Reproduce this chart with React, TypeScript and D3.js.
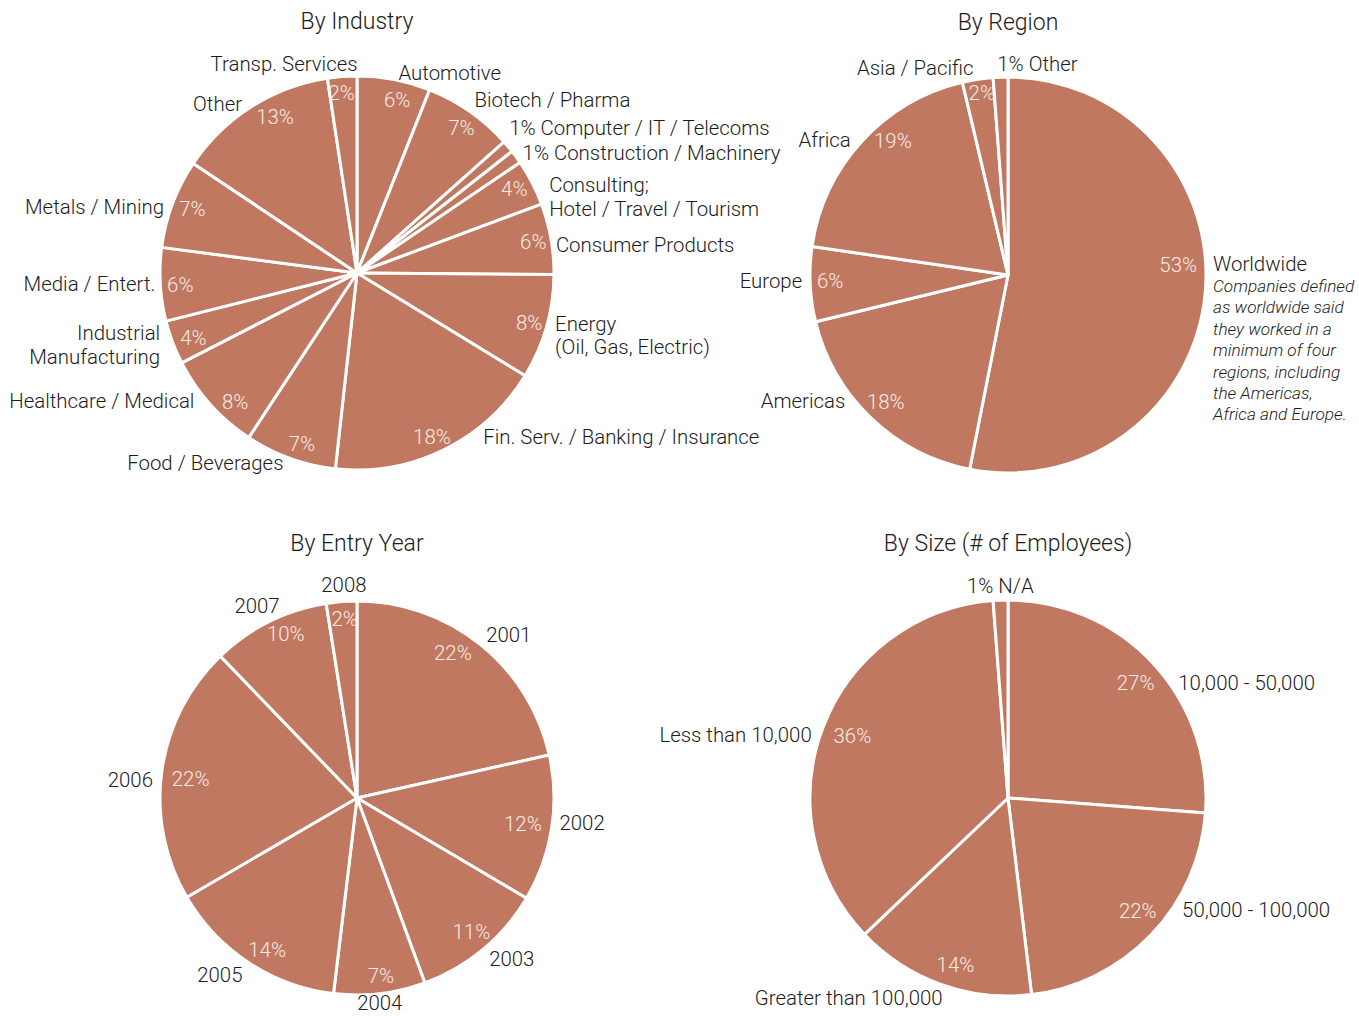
import React from "react";
import * as d3 from "d3";

// ---------- DATA ----------
const industryCategories = [
  "Automotive", "Biotech / Pharma", "1% Computer / IT / Telecoms", "1% Construction / Machinery",
  "Consulting;\nHotel / Travel / Tourism", "Consumer Products", "Energy\n(Oil, Gas, Electric)",
  "Fin. Serv. / Banking / Insurance", "Food / Beverages", "Healthcare / Medical",
  "Industrial\nManufacturing", "Media / Entert.", "Metals / Mining", "Other", "Transp. Services",
];
const industryValues = [6, 7.4, 1, 1.1, 3.8, 5.8, 8.6, 18, 7.5, 8.2, 3.6, 6, 7.3, 13.2, 2.4];
const industryPct = ["6%", "7%", "", "", "4%", "6%", "8%", "18%", "7%", "8%", "4%", "6%", "7%", "13%", "2%"];

const regionCategories = ["Worldwide", "Americas", "Europe", "Africa", "Asia / Pacific", "1% Other"];
const regionValues = [53.1, 18.1, 6.1, 19, 2.5, 1.2];
const regionPct = ["53%", "18%", "6%", "19%", "2%", ""];
const worldwideNote = [
  "Companies defined", "as worldwide said", "they worked in a", "minimum of four",
  "regions, including", "the Americas,", "Africa and Europe.",
];

const yearCategories = ["2001", "2002", "2003", "2004", "2005", "2006", "2007", "2008"];
const yearValues = [21.5, 12, 10.9, 7.5, 14.7, 21.2, 9.7, 2.5];
const yearPct = ["22%", "12%", "11%", "7%", "14%", "22%", "10%", "2%"];

const sizeCategories = ["10,000 - 50,000", "50,000 - 100,000", "Greater than 100,000", "Less than 10,000", "1% N/A"];
const sizeValues = [26.2, 21.9, 14.8, 35.9, 1.2];
const sizePct = ["27%", "22%", "14%", "36%", ""];

// label placement tweaks: [dx, dy, anchor]
type Nudge = [number, number, string?];
const industryNudges: Nudge[] = [
  [3, 1], [0, -5], [-5, -13], [0, 1], [10, 18], [-3, 8], [1, 6], [36, -20],
  [-4, -3], [-10, -9], [-5, 0], [3, -1], [-1, 6], [-5, 4], [16, -5],
];
const regionNudges: Nudge[] = [[1, -31], [-21, -22], [-1, -4], [-6, 3], [-3, -4], [-3, -6, "start"]];
const yearNudges: Nudge[] = [[1, -3], [0, -7], [1, 3], [-1, 1, "middle"], [-2, 6], [-1, 10], [14, -8], [3, -9, "middle"]];
const sizeNudges: Nudge[] = [[20, 24], [26, -30], [4, 7], [-5, 11], [0, -7, "middle"]];

// percentage label tweaks: [dx, dy]
const industryPctNudges: Nudge[] = [
  [7, 1], [3, 0], [0, 0], [0, 0], [0, -3], [2, 0], [2, 1], [-3, 5],
  [5, 4], [10, 11], [2, 3], [0, 2], [1, -2], [13, -7], [-2, -4],
];
const regionPctNudges: Nudge[] = [[0, -27], [-4, 3], [-7, -2], [11, -19], [0, -13], [0, 0]];
const yearPctNudges: Nudge[] = [[-11, -12], [-3, -1], [5, 3], [4, 8], [4, 9], [3, 5], [5, -11], [1, -9]];
const sizePctNudges: Nudge[] = [[3, 1], [7, -5], [5, 7], [3, -1], [0, 0]];

const FILL = "#c07860";
const PCT_COLOR = "#f8ebe5";
const TEXT = "#1c1c1c";
const FONT = "'Helvetica Neue', Roboto, 'Liberation Sans', Arial, sans-serif";
const LABEL_SIZE = 20.4;

interface PieProps {
  cx: number; cy: number; r: number; title: string; titleY: number;
  categories: string[]; values: number[]; pct: string[]; nudges: Nudge[]; pctNudges: Nudge[];
  pctR: number; extra?: (pos: { x: number; y: number }[]) => React.ReactNode;
}

function Pie({ cx, cy, r, title, titleY, categories, values, pct, nudges, pctNudges, pctR, extra }: PieProps) {
  const pie = d3.pie<number>().sort(null).value((d) => d).startAngle(0).endAngle(2 * Math.PI);
  const arcs = pie(values);
  const arc = d3.arc<d3.PieArcDatum<number>>().innerRadius(0).outerRadius(r);
  const pctArc = d3.arc<d3.PieArcDatum<number>>().innerRadius(pctR).outerRadius(pctR);
  const labelArc = d3.arc<d3.PieArcDatum<number>>().innerRadius(205).outerRadius(205);
  const positions: { x: number; y: number }[] = [];
  return (
    <g>
      <text x={cx} y={titleY} textAnchor="middle" dominantBaseline="central" fontSize={23} fontWeight={300} fill={TEXT} fontFamily={FONT}>
        {title}
      </text>
      <g transform={`translate(${cx},${cy})`}>
        {arcs.map((a, i) => (
          <path key={i} d={arc(a) || ""} fill={FILL} stroke="#ffffff" strokeWidth={3} strokeLinejoin="round" />
        ))}
        {arcs.map((a, i) => {
          if (!pct[i]) return null;
          const [x, y] = pctArc.centroid(a);
          const n = pctNudges[i] || [0, 0];
          return (
            <text key={i} x={x + n[0]} y={y + n[1]} textAnchor="middle" dominantBaseline="central" fontSize={LABEL_SIZE} fontWeight={300} fill={PCT_COLOR} fontFamily={FONT}>
              {pct[i]}
            </text>
          );
        })}
        {arcs.map((a, i) => {
          const [lx, ly] = labelArc.centroid(a);
          const mid = (a.startAngle + a.endAngle) / 2;
          const nud = nudges[i] || [0, 0];
          const anchor = nud[2] || (Math.sin(mid) >= 0 ? "start" : "end");
          const x = lx + nud[0];
          const y = ly + nud[1];
          positions[i] = { x, y };
          const lines = categories[i].split("\n");
          const lh = 23.5;
          return (
            <text key={i} textAnchor={anchor} fontSize={LABEL_SIZE} fontWeight={300} fill={TEXT} fontFamily={FONT}>
              {lines.map((ln, j) => (
                <tspan key={j} x={x} y={y + (j - (lines.length - 1) / 2) * lh} dominantBaseline="central">
                  {ln}
                </tspan>
              ))}
            </text>
          );
        })}
        {extra ? extra(positions) : null}
      </g>
    </g>
  );
}

export default function App() {
  return (
    <svg width={1359} height={1016} style={{ position: "absolute", left: 0, top: 0, display: "block", background: "#fff" }}>
      <Pie cx={357} cy={273} r={197} title="By Industry" titleY={21} categories={industryCategories}
        values={industryValues} pct={industryPct} nudges={industryNudges} pctNudges={industryPctNudges} pctR={177} />
      <Pie cx={1008} cy={275} r={198} title="By Region" titleY={22} categories={regionCategories}
        values={regionValues} pct={regionPct} nudges={regionNudges} pctNudges={regionPctNudges} pctR={171}
        extra={(pos) => (
          <text fontSize={17.2} fontStyle="italic" fontWeight={300} fill={TEXT} fontFamily={FONT}>
            {worldwideNote.map((ln, j) => (
              <tspan key={j} x={pos[0].x} y={pos[0].y + 22 + j * 21.4} dominantBaseline="central">{ln}</tspan>
            ))}
          </text>
        )} />
      <Pie cx={357} cy={798} r={197} title="By Entry Year" titleY={543} categories={yearCategories}
        values={yearValues} pct={yearPct} nudges={yearNudges} pctNudges={yearPctNudges} pctR={171} />
      <Pie cx={1008} cy={798} r={198} title="By Size (# of Employees)" titleY={543} categories={sizeCategories}
        values={sizeValues} pct={sizePct} nudges={sizeNudges} pctNudges={sizePctNudges} pctR={170} />
    </svg>
  );
}
